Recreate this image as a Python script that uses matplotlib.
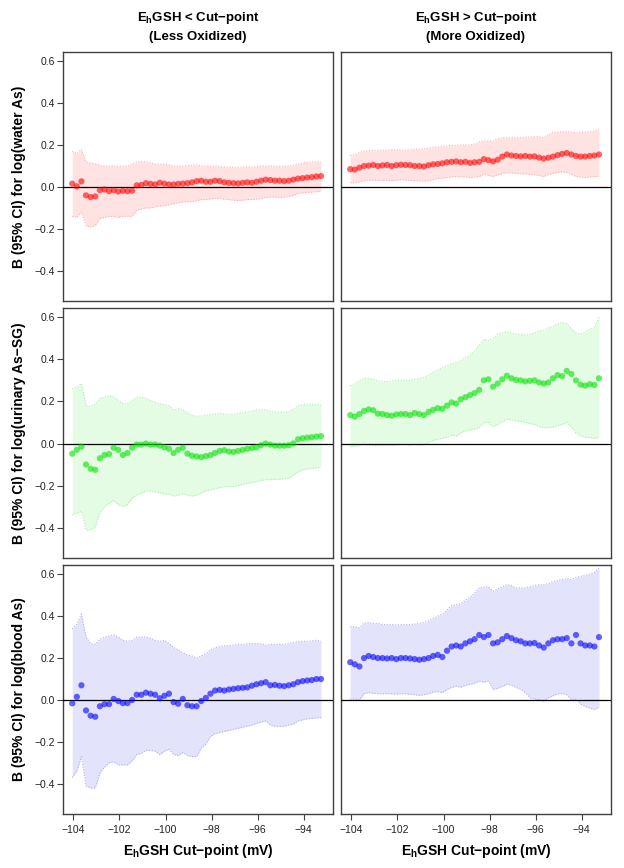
import matplotlib
matplotlib.use("Agg")
import matplotlib.pyplot as plt
import numpy as np

plt.rcParams['font.family'] = ['Liberation Sans', 'DejaVu Sans']
plt.rcParams['mathtext.fontset'] = 'custom'
plt.rcParams['mathtext.rm'] = 'Liberation Sans'
plt.rcParams['mathtext.bf'] = 'Liberation Sans:bold'

# Cut-points (mV)
cut_points = [-104.05, -103.85, -103.65, -103.45, -103.25, -103.05, -102.85, -102.65, -102.45, -102.25,
              -102.05, -101.85, -101.65, -101.45, -101.25, -101.05, -100.85, -100.65, -100.45, -100.25,
              -100.05, -99.85, -99.65, -99.45, -99.25, -99.05, -98.85, -98.65, -98.45, -98.25,
              -98.05, -97.85, -97.65, -97.45, -97.25, -97.05, -96.85, -96.65, -96.45, -96.25,
              -96.05, -95.85, -95.65, -95.45, -95.25, -95.05, -94.85, -94.65, -94.45, -94.25,
              -94.05, -93.85, -93.65, -93.45, -93.25]

# ---- water As, less oxidized
water_less_est = [0.016, 0.003, 0.027, -0.04, -0.048, -0.045, -0.015, -0.012, -0.02, -0.015,
                  -0.022, -0.018, -0.02, -0.018, 0.008, 0.01, 0.018, 0.015, 0.012, 0.02,
                  0.016, 0.012, 0.012, 0.015, 0.016, 0.018, 0.022, 0.028, 0.03, 0.025,
                  0.025, 0.03, 0.028, 0.022, 0.02, 0.018, 0.017, 0.02, 0.022, 0.02,
                  0.025, 0.03, 0.035, 0.033, 0.03, 0.03, 0.028, 0.03, 0.035, 0.04,
                  0.042, 0.045, 0.047, 0.05, 0.052]
water_less_hi = [0.17, 0.16, 0.178, 0.12, 0.115, 0.11, 0.105, 0.1, 0.1, 0.1,
                 0.098, 0.1, 0.1, 0.11, 0.12, 0.122, 0.12, 0.115, 0.11, 0.11,
                 0.108, 0.105, 0.1, 0.1, 0.1, 0.102, 0.105, 0.105, 0.1, 0.1,
                 0.098, 0.1, 0.097, 0.095, 0.095, 0.093, 0.092, 0.095, 0.095, 0.095,
                 0.097, 0.1, 0.1, 0.1, 0.1, 0.098, 0.1, 0.1, 0.105, 0.11,
                 0.115, 0.118, 0.12, 0.12, 0.12]
water_less_lo = [-0.14, -0.145, -0.12, -0.185, -0.19, -0.185, -0.15, -0.145, -0.14, -0.14,
                 -0.145, -0.14, -0.14, -0.14, -0.11, -0.105, -0.1, -0.1, -0.095, -0.09,
                 -0.09, -0.085, -0.08, -0.075, -0.072, -0.07, -0.07, -0.065, -0.06, -0.06,
                 -0.058, -0.055, -0.055, -0.058, -0.06, -0.063, -0.065, -0.063, -0.06, -0.06,
                 -0.058, -0.055, -0.05, -0.048, -0.048, -0.05, -0.048, -0.045, -0.04, -0.03,
                 -0.028, -0.025, -0.025, -0.022, -0.02]

# ---- water As, more oxidized
water_more_est = [0.085, 0.083, 0.092, 0.1, 0.102, 0.105, 0.1, 0.103, 0.105, 0.1,
                  0.104, 0.106, 0.105, 0.104, 0.1, 0.1, 0.098, 0.104, 0.108, 0.11,
                  0.113, 0.118, 0.12, 0.122, 0.118, 0.12, 0.115, 0.118, 0.12, 0.133,
                  0.128, 0.122, 0.13, 0.145, 0.155, 0.15, 0.148, 0.146, 0.148, 0.145,
                  0.146, 0.14, 0.135, 0.14, 0.145, 0.152, 0.158, 0.162, 0.155, 0.148,
                  0.145, 0.145, 0.148, 0.15, 0.155]
water_more_hi = [0.15, 0.155, 0.165, 0.17, 0.172, 0.175, 0.175, 0.175, 0.175, 0.178,
                 0.178, 0.175, 0.175, 0.178, 0.18, 0.18, 0.182, 0.185, 0.19, 0.19,
                 0.195, 0.195, 0.198, 0.198, 0.2, 0.2, 0.2, 0.205, 0.215, 0.22,
                 0.22, 0.22, 0.23, 0.235, 0.235, 0.235, 0.235, 0.235, 0.238, 0.238,
                 0.24, 0.24, 0.235, 0.25, 0.26, 0.262, 0.265, 0.265, 0.262, 0.258,
                 0.26, 0.262, 0.265, 0.268, 0.275]
water_more_lo = [0.02, 0.02, 0.025, 0.03, 0.032, 0.033, 0.032, 0.032, 0.033, 0.03,
                 0.033, 0.035, 0.033, 0.032, 0.03, 0.03, 0.028, 0.03, 0.035, 0.04,
                 0.042, 0.045, 0.048, 0.05, 0.048, 0.048, 0.045, 0.048, 0.05, 0.06,
                 0.055, 0.05, 0.058, 0.065, 0.068, 0.067, 0.065, 0.063, 0.063, 0.06,
                 0.058, 0.055, 0.05, 0.06, 0.065, 0.07, 0.072, 0.07, 0.06, 0.05,
                 0.048, 0.045, 0.048, 0.05, 0.05]

# ---- urinary As-SG, less oxidized
urine_less_est = [-0.048, -0.03, -0.015, -0.1, -0.12, -0.125, -0.07, -0.055, -0.05, -0.02,
                  -0.03, -0.055, -0.045, -0.02, -0.005, -0.005, 0.0, -0.005, -0.005, -0.01,
                  -0.018, -0.025, -0.045, -0.03, -0.02, -0.048, -0.058, -0.062, -0.065, -0.06,
                  -0.055, -0.045, -0.035, -0.032, -0.038, -0.04, -0.035, -0.03, -0.025, -0.022,
                  -0.018, -0.008, 0.0, -0.005, -0.01, -0.01, -0.01, -0.008, 0.0, 0.02,
                  0.025, 0.028, 0.03, 0.033, 0.035]
urine_less_hi = [0.26, 0.27, 0.285, 0.18, 0.175, 0.19, 0.215, 0.22, 0.225, 0.222,
                 0.205, 0.19, 0.19, 0.205, 0.22, 0.22, 0.215, 0.205, 0.195, 0.19,
                 0.185, 0.18, 0.16, 0.165, 0.16, 0.145, 0.135, 0.13, 0.13, 0.135,
                 0.138, 0.14, 0.145, 0.14, 0.14, 0.14, 0.145, 0.145, 0.15, 0.155,
                 0.16, 0.16, 0.16, 0.155, 0.15, 0.15, 0.148, 0.152, 0.165, 0.18,
                 0.185, 0.185, 0.185, 0.185, 0.185]
urine_less_lo = [-0.34, -0.33, -0.32, -0.41, -0.41, -0.395, -0.33, -0.3, -0.285, -0.27,
                 -0.29, -0.3, -0.29, -0.26, -0.245, -0.235, -0.225, -0.225, -0.23, -0.235,
                 -0.24, -0.24, -0.25, -0.245, -0.24, -0.245, -0.25, -0.245, -0.235, -0.225,
                 -0.22, -0.215, -0.21, -0.205, -0.205, -0.205, -0.2, -0.195, -0.19, -0.185,
                 -0.18, -0.175, -0.172, -0.172, -0.17, -0.17, -0.168, -0.165, -0.15, -0.135,
                 -0.125, -0.12, -0.118, -0.115, -0.115]

# ---- urinary As-SG, more oxidized
urine_more_est = [0.135, 0.128, 0.14, 0.155, 0.162, 0.158, 0.142, 0.14, 0.135, 0.132,
                  0.138, 0.14, 0.14, 0.135, 0.145, 0.14, 0.135, 0.15, 0.16, 0.168,
                  0.165, 0.18, 0.195, 0.19, 0.21, 0.22, 0.23, 0.24, 0.255, 0.3,
                  0.305, 0.27, 0.285, 0.305, 0.322, 0.31, 0.302, 0.3, 0.295, 0.298,
                  0.3, 0.29, 0.285, 0.29, 0.31, 0.325, 0.32, 0.345, 0.33, 0.3,
                  0.28, 0.275, 0.282, 0.278, 0.31]
urine_more_hi = [0.275, 0.285, 0.3, 0.31, 0.31, 0.305, 0.298, 0.295, 0.295, 0.298,
                 0.3, 0.3, 0.3, 0.3, 0.305, 0.31, 0.315, 0.325, 0.34, 0.35,
                 0.36, 0.37, 0.38, 0.385, 0.395, 0.41, 0.42, 0.44, 0.47, 0.495,
                 0.49, 0.5, 0.52, 0.525, 0.53, 0.525, 0.52, 0.52, 0.515, 0.52,
                 0.525, 0.535, 0.54, 0.55, 0.555, 0.57, 0.575, 0.57, 0.545, 0.525,
                 0.52, 0.53, 0.545, 0.55, 0.6]
urine_more_lo = [-0.015, -0.012, -0.01, -0.005, -0.008, -0.01, -0.01, -0.01, -0.008, -0.01,
                 -0.008, -0.005, -0.005, -0.008, -0.005, -0.008, -0.005, 0.005, 0.015, 0.02,
                 0.025, 0.03, 0.04, 0.035, 0.05, 0.06, 0.065, 0.07, 0.075, 0.1,
                 0.1, 0.08, 0.09, 0.105, 0.115, 0.112, 0.108, 0.105, 0.1, 0.095,
                 0.09, 0.08, 0.075, 0.075, 0.078, 0.085, 0.09, 0.1, 0.08, 0.05,
                 0.035, 0.03, 0.028, 0.025, 0.03]

# ---- blood As, less oxidized
blood_less_est = [-0.016, 0.015, 0.07, -0.05, -0.075, -0.08, -0.03, -0.02, -0.02, 0.005,
                  -0.005, -0.015, -0.015, 0.0, 0.025, 0.025, 0.035, 0.03, 0.025, 0.008,
                  0.02, 0.03, -0.01, -0.018, 0.005, -0.025, -0.03, -0.03, -0.005, 0.01,
                  0.03, 0.045, 0.048, 0.045, 0.05, 0.053, 0.056, 0.058, 0.06, 0.068,
                  0.075, 0.08, 0.085, 0.07, 0.072, 0.068, 0.066, 0.07, 0.075, 0.085,
                  0.09, 0.093, 0.095, 0.1, 0.1]
blood_less_hi = [0.34, 0.36, 0.41, 0.3, 0.27, 0.265, 0.29, 0.3, 0.305, 0.31,
                 0.3, 0.285, 0.28, 0.285, 0.3, 0.3, 0.3, 0.295, 0.285, 0.28,
                 0.285, 0.27, 0.25, 0.24, 0.225, 0.215, 0.21, 0.2, 0.21, 0.22,
                 0.24, 0.25, 0.255, 0.258, 0.26, 0.262, 0.265, 0.265, 0.268, 0.27,
                 0.27, 0.268, 0.262, 0.265, 0.265, 0.265, 0.265, 0.27, 0.275, 0.278,
                 0.28, 0.28, 0.282, 0.285, 0.28]
blood_less_lo = [-0.37, -0.34, -0.27, -0.41, -0.42, -0.42, -0.35, -0.32, -0.3, -0.295,
                 -0.31, -0.31, -0.31, -0.29, -0.26, -0.255, -0.24, -0.24, -0.245, -0.26,
                 -0.245, -0.235, -0.26, -0.265, -0.25, -0.265, -0.27, -0.27, -0.23, -0.21,
                 -0.175, -0.16, -0.155, -0.15, -0.145, -0.14, -0.135, -0.13, -0.125, -0.12,
                 -0.112, -0.105, -0.1, -0.12, -0.125, -0.125, -0.125, -0.12, -0.115, -0.1,
                 -0.095, -0.09, -0.088, -0.085, -0.085]

# ---- blood As, more oxidized
blood_more_est = [0.18, 0.17, 0.16, 0.2, 0.21, 0.205, 0.2, 0.2, 0.198, 0.2,
                  0.195, 0.2, 0.2, 0.198, 0.195, 0.192, 0.195, 0.2, 0.21, 0.215,
                  0.205, 0.235, 0.255, 0.26, 0.255, 0.27, 0.28, 0.29, 0.31, 0.3,
                  0.31, 0.27, 0.275, 0.29, 0.305, 0.295, 0.285, 0.28, 0.27, 0.27,
                  0.272, 0.26, 0.25, 0.27, 0.285, 0.29, 0.29, 0.295, 0.27, 0.31,
                  0.27, 0.26, 0.26, 0.255, 0.3]
blood_more_hi = [0.35, 0.35, 0.345, 0.368, 0.37, 0.365, 0.365, 0.36, 0.36, 0.36,
                 0.358, 0.36, 0.36, 0.36, 0.362, 0.365, 0.37, 0.378, 0.39, 0.4,
                 0.41, 0.43, 0.45, 0.455, 0.46, 0.475, 0.49, 0.51, 0.535, 0.54,
                 0.54, 0.52, 0.53, 0.54, 0.55, 0.545, 0.535, 0.535, 0.535, 0.54,
                 0.545, 0.55, 0.55, 0.555, 0.565, 0.57, 0.575, 0.58, 0.575, 0.585,
                 0.59, 0.595, 0.6, 0.61, 0.63]
blood_more_lo = [0.005, 0.005, 0.0, 0.03, 0.035, 0.032, 0.03, 0.03, 0.03, 0.03,
                 0.028, 0.03, 0.03, 0.028, 0.025, 0.022, 0.025, 0.03, 0.038, 0.04,
                 0.035, 0.05, 0.06, 0.065, 0.06, 0.07, 0.075, 0.08, 0.09, 0.085,
                 0.09, 0.05, 0.055, 0.065, 0.075, 0.07, 0.06, 0.05, 0.035, 0.01,
                 0.005, 0.0, -0.005, 0.01, 0.02, 0.03, 0.03, 0.025, 0.0, 0.005,
                 -0.02, -0.03, -0.04, -0.045, -0.035]

col_titles = ["E$_{\\mathbf{h}}$GSH < Cut\u2212point\n(Less Oxidized)",
              "E$_{\\mathbf{h}}$GSH > Cut\u2212point\n(More Oxidized)"]
row_labels = ["B (95% CI) for log(water As)",
              "B (95% CI) for log(urinary As\u2212SG)",
              "B (95% CI) for log(blood As)"]
x_label = "E$_{\\mathbf{h}}$GSH Cut\u2212point (mV)"
x_ticks = [-104, -102, -100, -98, -96, -94]
y_ticks = [-0.4, -0.2, 0.0, 0.2, 0.4, 0.6]

rows = [
    ((water_less_est, water_less_lo, water_less_hi), (water_more_est, water_more_lo, water_more_hi)),
    ((urine_less_est, urine_less_lo, urine_less_hi), (urine_more_est, urine_more_lo, urine_more_hi)),
    ((blood_less_est, blood_less_lo, blood_less_hi), (blood_more_est, blood_more_lo, blood_more_hi)),
]
point_colors = ["#FF0000", "#00E000", "#0000FF"]
fill_colors = ["#FFE3E3", "#E3FCE3", "#E3E3FC"]
edge_colors = ["#FFB0B0", "#A8F0A8", "#B0B0F0"]

W, H = 624, 868
fig = plt.figure(figsize=(W / 100, H / 100), dpi=100)

col_left = [63, 341]
col_w = 270
row_top = [52, 308, 565]
row_bot = [301, 558, 814]

x = np.array(cut_points)
for r in range(3):
    for c in range(2):
        l = col_left[c] / W
        b = 1 - row_bot[r] / H
        h = (row_bot[r] - row_top[r]) / H
        ax = fig.add_axes([l, b, col_w / W, h])
        est, lo, hi = rows[r][c]
        ax.fill_between(x, lo, hi, color=fill_colors[r], lw=0, zorder=1)
        ax.plot(x, lo, ls=(0, (1, 1.5)), color=edge_colors[r], lw=0.8, zorder=2)
        ax.plot(x, hi, ls=(0, (1, 1.5)), color=edge_colors[r], lw=0.8, zorder=2)
        ax.axhline(0, color="black", lw=0.9, zorder=3)
        ax.scatter(x, est, s=20, color=point_colors[r], alpha=0.6, edgecolors="none", zorder=4)
        ax.set_xlim(-104.45, -92.73)
        ax.set_ylim(-0.544, 0.644)
        ax.set_xticks(x_ticks)
        ax.set_yticks(y_ticks)
        for sp in ax.spines.values():
            sp.set_color("#404040")
            sp.set_linewidth(1.0)
        ax.tick_params(axis="both", direction="out", length=4, width=0.8, color="#404040",
                       labelsize=7.5, pad=2, labelcolor="#222222")
        ax.tick_params(axis="x", pad=4)
        if c == 0:
            ax.set_yticklabels([f"{v:.1f}".replace("-", "\u2212") for v in y_ticks])
            ax.set_ylabel(row_labels[r], fontsize=10, fontweight="bold", labelpad=6)
        else:
            ax.tick_params(axis="y", left=False, labelleft=False)
        if r == 2:
            ax.set_xticklabels([f"\u2212{abs(v)}" for v in x_ticks])
            ax.set_xlabel(x_label, fontsize=10, fontweight="bold", labelpad=5)
        else:
            ax.tick_params(axis="x", bottom=False, labelbottom=False)
        if r == 0:
            ax.set_title(col_titles[c], fontsize=9.5, fontweight="bold", pad=9, linespacing=1.5)

fig.savefig("out.png", dpi=100)
